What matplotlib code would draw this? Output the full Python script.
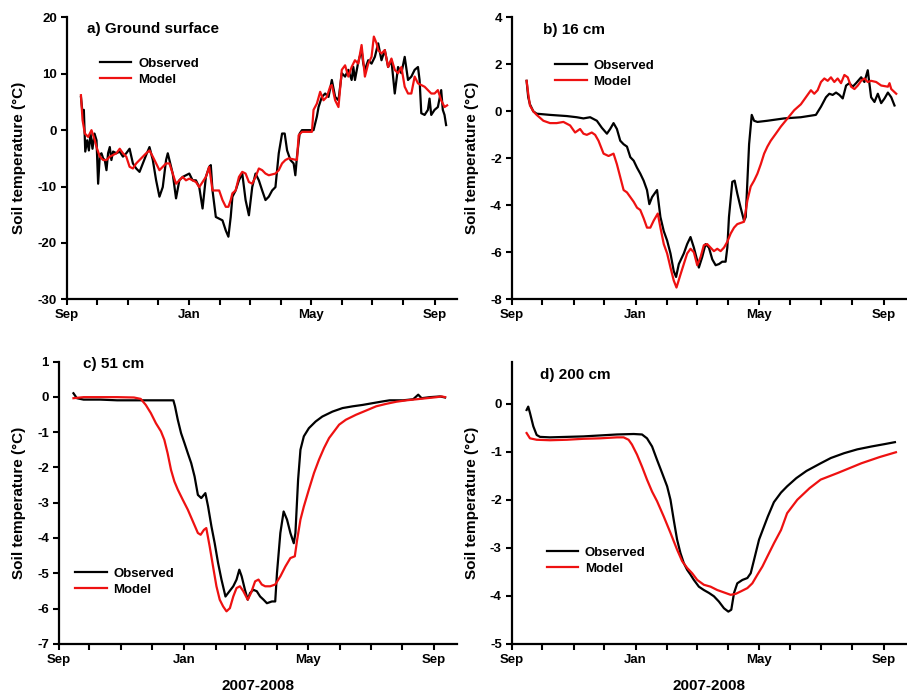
import pandas as pd
import matplotlib
matplotlib.use('Agg')
import matplotlib.pyplot as plt

plt.rcParams['font.family'] = ['Liberation Sans', 'DejaVu Sans']
plt.rcParams['axes.unicode_minus'] = False

# x values are days since 1 Sep 2007
start = pd.Timestamp('2007-09-01')

# a) ground surface
surf_obs_day = [14.2, 15.8, 17.1, 18.5, 20.4, 22.1, 23.7, 25.7, 27.7, 29.7, 31.3, 33.0, 34.6, 36.3, 37.9,
                39.6, 41.2, 42.9, 44.5, 46.2, 49.5, 52.8, 56.0, 59.3, 62.6, 65.9, 69.2, 72.5, 75.8, 79.1,
                82.4, 85.7, 89.0, 92.3, 95.6, 98.9, 100.6, 102.2, 105.5, 108.8, 112.1, 115.4, 118.7, 122.0,
                125.3, 128.6, 131.9, 135.2, 138.5, 141.8, 143.4, 145.1, 148.4, 151.7, 155.0, 158.3, 160.9,
                163.2, 164.9, 168.1, 171.4, 174.7, 178.0, 181.3, 184.6, 187.9, 191.2, 194.5, 197.8, 201.1,
                204.4, 207.7, 211.0, 214.3, 216.9, 219.3, 222.6, 225.8, 227.5, 229.1, 231.8, 234.1, 245.6,
                248.9, 250.6, 253.9, 257.2, 260.5, 263.8, 267.1, 270.4, 273.7, 277.0, 280.2, 283.5, 285.2,
                286.8, 290.1, 293.4, 295.1, 296.7, 300.0, 303.3, 306.6, 309.9, 313.2, 316.5, 319.8, 323.1,
                326.4, 329.7, 333.0, 336.3, 339.6, 342.9, 346.2, 349.5, 351.1, 352.8, 356.1, 359.4, 361.0,
                362.7, 366.0, 369.3, 372.6, 374.2, 375.9, 377.5]
surf_obs = [5.9, 3.0, 3.6, -3.8, -1.8, -3.6, -0.6, -3.3, -0.6, -1.8, -9.5, -4.4, -4.1, -5.0, -5.3,
            -7.1, -4.1, -3.0, -5.3, -3.8, -4.1, -3.8, -4.7, -4.1, -3.3, -5.9, -6.8, -7.4, -5.9, -4.4,
            -3.0, -5.3, -8.9, -11.8, -10.1, -5.3, -4.1, -5.3, -7.7, -12.1, -8.9, -8.3, -8.0, -7.7,
            -8.9, -8.9, -10.1, -13.9, -8.3, -6.5, -6.2, -10.7, -15.4, -15.7, -16.0, -17.8, -18.9,
            -15.4, -11.8, -10.7, -8.9, -7.7, -12.4, -15.1, -10.1, -7.7, -8.9, -10.7, -12.4, -11.8,
            -10.7, -10.1, -4.1, -0.6, -0.6, -3.6, -5.3, -5.9, -8.0, -4.7, -0.6, 0.0, 0.0,
            2.4, 4.1, 5.9, 6.5, 5.9, 8.9, 5.9, 5.3, 10.1, 9.5, 10.7, 8.9, 11.2,
            8.9, 12.1, 14.2, 11.8, 10.7, 12.4, 11.8, 13.0, 15.4, 12.4, 14.2, 11.2, 12.4,
            6.5, 11.2, 10.1, 13.0, 8.9, 9.5, 10.7, 11.2, 8.9, 3.0, 2.7, 3.6, 5.6,
            2.7, 3.6, 4.1, 7.1, 3.6, 2.7, 0.9]
surf_mod_day = [14.2, 15.8, 18.1, 21.4, 24.7, 28.0, 29.7, 33.0, 36.3, 39.6, 42.9, 46.2, 49.5, 52.8, 56.0,
                59.3, 62.6, 65.9, 69.2, 72.5, 75.8, 79.1, 82.4, 85.7, 89.0, 92.3, 95.6, 98.9, 102.2, 105.5,
                108.8, 112.1, 115.4, 118.7, 122.0, 125.3, 128.6, 131.9, 135.2, 138.5, 141.8, 145.1, 151.7,
                155.0, 158.3, 160.9, 163.2, 164.9, 168.1, 171.4, 174.7, 178.0, 181.3, 184.6, 187.9, 191.2,
                194.5, 197.8, 201.1, 207.7, 211.0, 214.3, 217.6, 220.9, 229.1, 230.8, 234.1, 244.0, 245.6,
                248.9, 252.2, 255.5, 258.8, 262.1, 263.8, 267.1, 270.4, 273.7, 277.0, 280.2, 283.5, 286.8,
                290.1, 293.4, 296.7, 300.0, 303.3, 305.6, 308.3, 309.9, 313.2, 316.5, 319.8, 323.1, 326.4,
                329.7, 333.0, 336.3, 339.6, 342.9, 346.2, 349.5, 356.1, 362.7, 366.0, 369.3, 372.6, 375.9,
                378.5]
surf_mod = [6.2, 1.8, -0.6, -1.2, 0.0, -1.8, -3.0, -4.7, -5.3, -5.3, -4.7, -4.4, -4.1, -3.3, -4.1,
            -4.7, -6.5, -6.8, -5.9, -5.3, -4.7, -4.1, -3.6, -4.7, -5.9, -7.1, -6.5, -5.9, -5.9, -7.7,
            -9.5, -8.9, -8.3, -8.9, -8.6, -8.9, -9.2, -10.1, -9.2, -8.3, -6.5, -10.7, -10.7,
            -12.4, -13.6, -13.6, -12.4, -11.2, -10.7, -8.3, -7.4, -7.7, -9.2, -9.5, -8.3, -6.8,
            -7.1, -7.7, -8.0, -7.7, -7.1, -5.9, -5.3, -5.0, -5.3, -0.9, -0.3, -0.3, 3.6,
            4.7, 6.8, 5.3, 5.9, 7.7, 8.0, 5.3, 4.1, 10.7, 11.5, 9.5, 11.2, 12.4,
            11.8, 15.1, 9.5, 11.8, 13.0, 16.6, 15.4, 14.2, 13.6, 14.2, 11.2, 12.7, 10.7,
            10.1, 11.2, 7.7, 6.5, 6.5, 9.5, 8.3, 7.7, 6.5, 6.5, 7.1, 5.3, 4.1,
            4.4]

# b) 16 cm
d16_obs_day = [14.8, 16.4, 18.1, 21.4, 24.7, 37.8, 54.3, 64.1, 70.7, 77.3, 83.9, 88.8, 93.8, 97.0, 100.3,
               103.6, 106.9, 110.2, 113.5, 116.8, 120.1, 123.4, 126.6, 129.9, 133.2, 135.5, 138.2, 141.4,
               143.1, 146.4, 149.7, 153.0, 156.3, 159.5, 161.8, 164.5, 169.4, 172.7, 176.0, 179.3, 182.6,
               184.2, 187.5, 190.8, 194.1, 197.4, 200.7, 204.0, 207.2, 210.5, 212.2, 213.8, 217.1, 219.4,
               222.0, 225.3, 228.6, 230.3, 233.6, 236.2, 238.5, 241.8, 251.6, 268.1, 284.5, 299.3, 304.3,
               309.2, 312.5, 315.8, 319.1, 322.4, 325.7, 329.0, 332.2, 335.5, 338.8, 343.8, 347.0, 350.3,
               353.6, 356.9, 360.2, 363.5, 366.8, 370.1, 373.4, 376.6]
d16_obs = [1.3, 0.6, 0.3, 0.0, -0.1, -0.15, -0.2, -0.25, -0.3, -0.25, -0.4, -0.7, -0.95, -0.75, -0.5,
           -0.75, -1.25, -1.4, -1.5, -1.95, -2.1, -2.4, -2.65, -2.95, -3.35, -3.95, -3.65, -3.45,
           -3.35, -4.5, -5.1, -5.5, -6.05, -6.8, -7.05, -6.5, -6.05, -5.65, -5.35, -5.8, -6.35,
           -6.65, -6.2, -5.65, -5.8, -6.3, -6.55, -6.5, -6.4, -6.4, -5.8, -4.5, -3.0, -2.95,
           -3.5, -4.1, -4.65, -4.5, -1.4, -0.15, -0.4, -0.45, -0.4, -0.3, -0.25, -0.15, 0.2,
           0.6, 0.75, 0.7, 0.8, 0.7, 0.55, 1.1, 1.2, 1.05, 1.2, 1.45, 1.25, 1.75,
           0.6, 0.4, 0.75, 0.35, 0.55, 0.8, 0.6, 0.25]
d16_mod_day = [14.8, 16.4, 18.1, 21.4, 24.7, 31.3, 37.8, 44.4, 51.0, 57.6, 62.5, 67.4, 70.7, 74.0, 78.9,
               82.2, 85.5, 90.5, 95.4, 100.3, 103.6, 106.9, 110.2, 113.5, 116.8, 120.1, 123.4, 126.6,
               129.9, 133.2, 136.5, 139.8, 143.8, 146.4, 149.7, 153.0, 156.3, 159.5, 162.2, 166.1, 169.4,
               172.7, 176.0, 179.3, 182.6, 185.9, 189.1, 192.4, 195.7, 199.0, 202.3, 205.6, 208.9, 212.2,
               215.5, 218.8, 222.0, 228.6, 231.9, 235.2, 238.5, 241.8, 245.1, 248.4, 251.6, 254.9, 259.9,
               264.8, 271.4, 278.0, 284.5, 291.1, 294.4, 297.7, 301.0, 304.3, 307.6, 310.9, 314.1, 317.4,
               320.7, 324.0, 327.3, 330.6, 333.9, 337.2, 340.5, 343.8, 347.0, 350.3, 353.6, 358.6, 363.5,
               370.1, 371.7, 373.4, 378.3]
d16_mod = [1.3, 0.75, 0.25, 0.0, -0.15, -0.4, -0.5, -0.5, -0.45, -0.6, -0.9, -0.75, -0.95, -1.0, -0.9,
           -1.0, -1.25, -1.8, -1.9, -1.8, -2.25, -2.8, -3.35, -3.45, -3.65, -3.85, -4.1, -4.2,
           -4.55, -4.95, -4.95, -4.65, -4.35, -4.95, -5.65, -6.05, -6.65, -7.2, -7.5, -6.95, -6.5,
           -6.05, -5.85, -6.0, -6.55, -6.2, -5.7, -5.65, -5.8, -5.95, -5.85, -5.95, -5.8, -5.55,
           -5.2, -4.95, -4.8, -4.7, -3.8, -3.2, -2.95, -2.65, -2.25, -1.8, -1.5, -1.25, -0.95,
           -0.65, -0.3, 0.05, 0.3, 0.7, 0.9, 0.75, 0.9, 1.25, 1.4, 1.3, 1.45, 1.25,
           1.4, 1.2, 1.55, 1.45, 1.05, 0.95, 1.1, 1.3, 1.4, 1.25, 1.3, 1.25, 1.1,
           1.05, 1.2, 0.95, 0.75]

# c) 51 cm
d51_obs_day = [14.4, 17.7, 24.3, 40.7, 57.0, 73.4, 89.8, 106.2, 111.8, 113.4, 116.1, 119.3, 122.6, 125.9,
               129.2, 132.5, 135.7, 139.0, 143.0, 145.6, 148.9, 152.1, 155.4, 158.7, 162.6, 165.2, 170.2,
               173.4, 176.1, 178.4, 181.6, 184.3, 186.6, 189.8, 193.1, 196.4, 199.7, 203.0, 207.9, 211.1,
               212.8, 216.1, 219.3, 222.6, 225.9, 229.2, 230.8, 233.4, 235.7, 239.0, 243.9, 250.5, 257.0,
               266.9, 276.7, 286.6, 296.4, 306.2, 316.1, 322.6, 335.7, 345.6, 350.5, 353.8, 362.0, 371.8,
               376.7]
d51_obs = [0.1, -0.04, -0.08, -0.08, -0.1, -0.1, -0.1, -0.1, -0.1, -0.27, -0.65, -1.03, -1.31, -1.6,
           -1.88, -2.26, -2.78, -2.87, -2.73, -3.1, -3.67, -4.15, -4.71, -5.18, -5.66, -5.56, -5.37,
           -5.18, -4.9, -5.09, -5.47, -5.75, -5.56, -5.47, -5.51, -5.66, -5.75, -5.85, -5.8, -5.8,
           -5.0, -3.86, -3.25, -3.48, -3.86, -4.15, -3.86, -2.35, -1.5, -1.12, -0.89, -0.7, -0.56,
           -0.42, -0.32, -0.27, -0.23, -0.18, -0.13, -0.1, -0.1, -0.07, 0.06, -0.04, -0.01, 0.01,
           -0.02]
d51_mod_day = [14.4, 24.3, 40.7, 57.0, 73.4, 80.0, 84.9, 89.8, 94.8, 99.7, 103.0, 106.2, 109.5, 112.8,
               116.1, 121.0, 125.9, 130.8, 135.7, 138.4, 141.6, 143.9, 147.2, 150.5, 153.8, 157.0, 160.3,
               163.6, 166.9, 170.2, 173.4, 176.7, 180.0, 184.3, 187.5, 191.5, 194.8, 198.0, 201.3, 206.2,
               211.1, 216.1, 221.0, 225.9, 230.2, 232.5, 235.7, 239.0, 243.9, 248.9, 253.8, 258.7, 263.6,
               268.5, 273.4, 280.0, 289.8, 299.7, 309.5, 319.3, 329.2, 339.0, 348.9, 358.7, 368.5, 373.4,
               376.7]
d51_mod = [-0.04, -0.01, -0.01, -0.01, -0.02, -0.06, -0.23, -0.46, -0.75, -0.98, -1.22, -1.6, -2.07, -2.4,
           -2.63, -2.92, -3.2, -3.53, -3.86, -3.91, -3.77, -3.72, -4.24, -4.81, -5.37, -5.75, -5.94,
           -6.08, -5.99, -5.66, -5.42, -5.37, -5.51, -5.75, -5.56, -5.23, -5.18, -5.32, -5.37, -5.37,
           -5.32, -5.09, -4.81, -4.57, -4.52, -4.05, -3.48, -3.11, -2.63, -2.16, -1.78, -1.45, -1.17,
           -0.98, -0.79, -0.65, -0.51, -0.39, -0.27, -0.2, -0.14, -0.1, -0.07, -0.04, -0.01, 0.01,
           -0.01]

# d) 200 cm
d200_obs_day = [14.8, 16.4, 18.1, 21.4, 24.7, 28.0, 37.8, 54.3, 70.7, 87.2, 103.6, 120.1, 128.3, 133.2,
                138.2, 143.1, 148.0, 153.0, 156.3, 159.5, 162.8, 166.1, 169.4, 172.7, 176.0, 179.3, 184.2,
                189.1, 194.1, 199.0, 203.9, 208.9, 213.2, 216.1, 218.8, 222.0, 227.0, 231.9, 235.2, 238.5,
                243.4, 248.4, 252.0, 258.0, 265.0, 271.0, 280.0, 290.0, 304.0, 314.0, 327.0, 340.0, 354.0,
                367.0, 377.0]
d200_obs = [-0.13, -0.06, -0.19, -0.47, -0.65, -0.69, -0.7, -0.69, -0.68, -0.66, -0.64, -0.63, -0.64, -0.72,
            -0.89, -1.17, -1.44, -1.72, -2.0, -2.42, -2.83, -3.11, -3.32, -3.46, -3.56, -3.67, -3.81,
            -3.88, -3.94, -4.01, -4.12, -4.26, -4.33, -4.29, -3.94, -3.74, -3.67, -3.63, -3.53, -3.25,
            -2.83, -2.55, -2.35, -2.05, -1.85, -1.72, -1.55, -1.4, -1.24, -1.13, -1.03, -0.95, -0.89,
            -0.84, -0.8]
d200_mod_day = [14.8, 18.1, 24.7, 37.8, 54.3, 70.7, 87.2, 103.6, 110.2, 115.1, 118.4, 123.4, 128.3, 133.2,
                138.2, 143.1, 149.7, 156.3, 162.8, 167.8, 172.7, 177.6, 182.6, 189.1, 195.7, 202.3, 208.9,
                215.5, 220.4, 225.3, 231.9, 236.8, 241.8, 246.7, 251.6, 258.2, 265.0, 271.0, 281.0, 293.0,
                304.0, 321.0, 344.0, 362.0, 378.0]
d200_mod = [-0.61, -0.72, -0.75, -0.76, -0.75, -0.73, -0.72, -0.7, -0.7, -0.75, -0.85, -1.06, -1.31, -1.58,
            -1.83, -2.03, -2.35, -2.69, -3.04, -3.28, -3.42, -3.53, -3.67, -3.77, -3.81, -3.88, -3.93,
            -3.98, -3.96, -3.91, -3.84, -3.74, -3.56, -3.39, -3.18, -2.9, -2.63, -2.28, -2.0, -1.76,
            -1.58, -1.44, -1.24, -1.11, -1.01]

panels = [
    ('a) Ground surface', surf_obs_day, surf_obs, surf_mod_day, surf_mod, (-30, 20), range(-30, 21, 10)),
    ('b) 16 cm', d16_obs_day, d16_obs, d16_mod_day, d16_mod, (-8, 4), range(-8, 5, 2)),
    ('c) 51 cm', d51_obs_day, d51_obs, d51_mod_day, d51_mod, (-7, 1), range(-7, 2, 1)),
    ('d) 200 cm', d200_obs_day, d200_obs, d200_mod_day, d200_mod, (-5, 0.88), range(-5, 1, 1)),
]

# axes boxes [left, bottom, width, height] in figure fraction
boxes = [[0.0735, 0.570, 0.430, 0.405],
         [0.564, 0.570, 0.435, 0.405],
         [0.0647, 0.075, 0.4388, 0.4056],
         [0.564, 0.075, 0.435, 0.4056]]
title_pos = [(0.052, 0.960), (0.079, 0.955), (0.06, 0.99), (0.072, 0.951)]
legend_pos = [(0.085, 0.858), (0.11, 0.85), (0.041, 0.27), (0.089, 0.345)]
ylabel_x = [-0.104, -0.083, -0.082, -0.083]

months = pd.date_range('2007-09-01', '2008-09-01', freq='MS')
month_ticks = [(m - start).days for m in months]
month_labels = [m.strftime('%b') if m.month in (9, 1, 5) else '' for m in months]

fig = plt.figure(figsize=(9.07, 6.96), dpi=100)

for i, (title, xo, yo, xm, ym, ylim, yticks) in enumerate(panels):
    ax = fig.add_axes(boxes[i])
    ax.plot(xo, yo, color='black', lw=1.6, label='Observed')
    ax.plot(xm, ym, color='#ee1111', lw=1.6, label='Model')
    ax.set_xlim(0, 388)
    ax.set_ylim(*ylim)
    ax.set_xticks(month_ticks)
    ax.set_xticklabels(month_labels)
    ax.set_yticks(list(yticks))
    for s in ['top', 'right']:
        ax.spines[s].set_visible(False)
    for s in ['left', 'bottom']:
        ax.spines[s].set_linewidth(1.6)
    ax.tick_params(direction='out', length=4, width=1.5, labelsize=9.5, pad=3)
    for lab in ax.get_xticklabels() + ax.get_yticklabels():
        lab.set_fontweight('bold')
    ax.set_ylabel('Soil temperature (°C)', fontsize=11, fontweight='bold')
    ax.yaxis.set_label_coords(ylabel_x[i], 0.5)
    ax.text(title_pos[i][0], title_pos[i][1], title, transform=ax.transAxes,
            fontsize=11, fontweight='bold', va='center', ha='left')
    ax.legend(loc='upper left', bbox_to_anchor=legend_pos[i], frameon=False,
              prop={'size': 9.5, 'weight': 'bold'},
              handlelength=2.4, handletextpad=0.5, labelspacing=0.3, borderpad=0, borderaxespad=0)
    if i >= 2:
        ax.set_xlabel('2007-2008', fontsize=11, fontweight='bold', labelpad=10)

fig.savefig('out.png', dpi=100)
